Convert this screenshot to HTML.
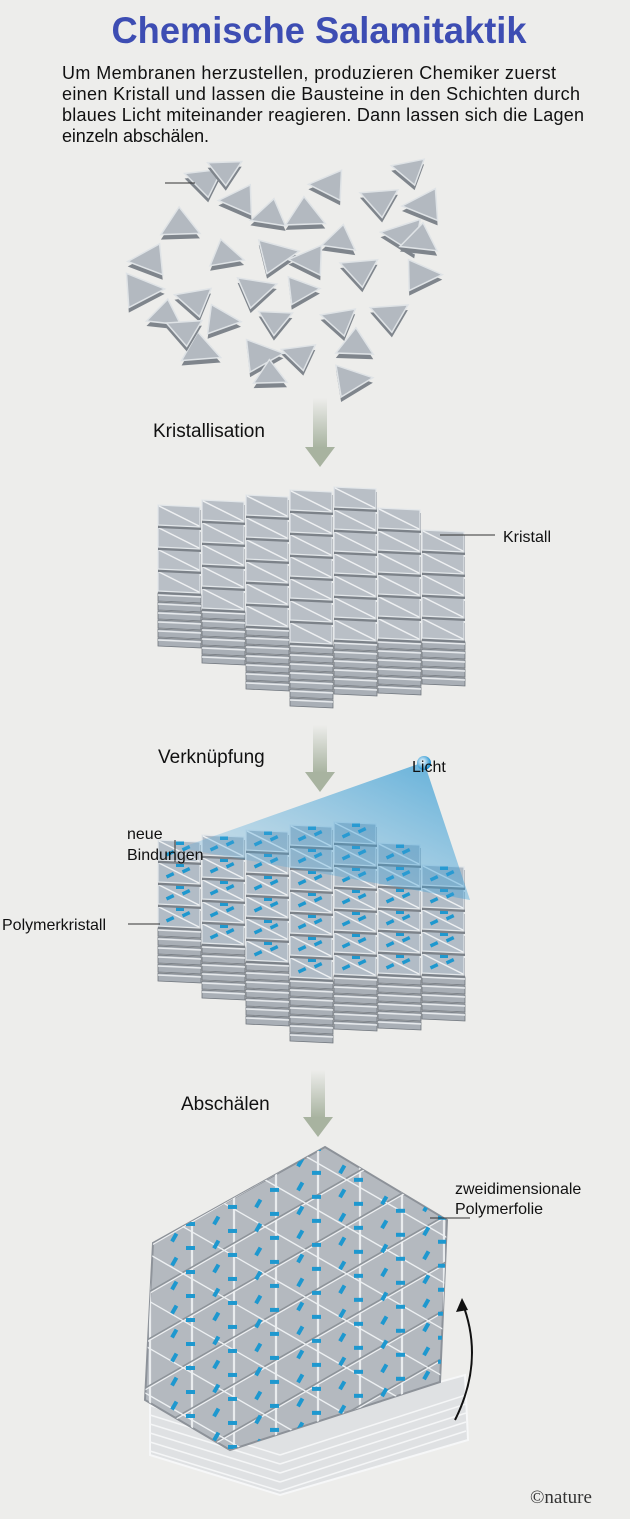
<!DOCTYPE html>
<html><head><meta charset="utf-8">
<style>
html,body{margin:0;padding:0;background:#ededeb;width:630px;height:1519px;overflow:hidden;}
body{position:relative;font-family:"Liberation Sans",sans-serif;}
</style></head><body>
<svg id="s" width="630" height="1519" viewBox="0 0 630 1519" xmlns="http://www.w3.org/2000/svg" style="position:absolute;left:0;top:0;display:block">
<defs>
<linearGradient id="ar" x1="0" y1="0" x2="0" y2="1"><stop offset="0" stop-color="#ededeb"/><stop offset="1" stop-color="#a8b3a0"/></linearGradient>
<linearGradient id="beam" x1="1" y1="0" x2="0" y2="1"><stop offset="0" stop-color="#1a90d0" stop-opacity="0.85"/><stop offset="1" stop-color="#5aaee0" stop-opacity="0.15"/></linearGradient>
<radialGradient id="ball" cx="0.4" cy="0.4" r="0.6"><stop offset="0" stop-color="#fff"/><stop offset="1" stop-color="#1a8fd0"/></radialGradient>
</defs>
<text x="319" y="43" text-anchor="middle" font-family="Liberation Sans, sans-serif" font-weight="bold" font-size="37" fill="#3d4db3" textLength="415" lengthAdjust="spacingAndGlyphs">Chemische Salamitaktik</text>
<text font-family="Liberation Sans, sans-serif" font-size="18" fill="#111" lengthAdjust="spacingAndGlyphs">
<tspan x="62" y="79" textLength="494">Um Membranen herzustellen, produzieren Chemiker zuerst</tspan>
<tspan x="62" y="100" textLength="518">einen Kristall und lassen die Bausteine in den Schichten durch</tspan>
<tspan x="62" y="121" textLength="522">blaues Licht miteinander reagieren. Dann lassen sich die Lagen</tspan>
<tspan x="62" y="142" textLength="147">einzeln abschälen.</tspan>
</text>
<g id="arrows">
<rect x="313" y="398" width="14" height="50" fill="url(#ar)"/><polygon points="305,447 335,447 320,467" fill="#a8b3a0"/>
<rect x="313" y="725" width="14" height="48" fill="url(#ar)"/><polygon points="305,772 335,772 320,792" fill="#a8b3a0"/>
<rect x="311" y="1070" width="14" height="48" fill="url(#ar)"/><polygon points="303,1117 333,1117 318,1137" fill="#a8b3a0"/>
</g>
<g id="scatter"></g>
<g id="c1"></g>
<g id="c2"></g>
<polygon points="424,762 180,848 470,900" fill="url(#beam)" opacity="0.8"/>
<circle cx="424" cy="763" r="7" fill="url(#ball)"/>
<g id="sheet"></g>
<path d="M455,1420 Q485,1360 462,1302" fill="none" stroke="#111" stroke-width="2"/>
<polygon points="462,1298 456,1312 468,1310" fill="#111"/>
<g stroke="#333" stroke-width="1">
<line x1="165" y1="183" x2="195" y2="183"/>
<line x1="440" y1="535" x2="495" y2="535"/>
<line x1="128" y1="924" x2="160" y2="924"/>
<line x1="175" y1="840" x2="175" y2="862"/>
<line x1="430" y1="1218" x2="470" y2="1218"/>
</g>
<g font-family="Liberation Sans, sans-serif" font-size="19" fill="#111">
<text x="153" y="437">Kristallisation</text>
<text x="158" y="763">Verknüpfung</text>
<text x="181" y="1110">Abschälen</text>
</g>
<g font-family="Liberation Sans, sans-serif" font-size="16" fill="#111">
<text x="503" y="542">Kristall</text>
<text x="412" y="772">Licht</text>
<text x="127" y="839">neue</text>
<text x="127" y="860">Bindungen</text>
<text x="2" y="930">Polymerkristall</text>
<text x="455" y="1194">zweidimensionale</text>
<text x="455" y="1214">Polymerfolie</text>
</g>
<text x="530" y="1503" font-family="Liberation Serif, serif" font-size="19" fill="#333">©nature</text>
</svg>
<script>
var NS="http://www.w3.org/2000/svg";
function el(p,t,a){var e=document.createElementNS(NS,t);for(var k in a)e.setAttribute(k,a[k]);p.appendChild(e);return e;}
var g=document.getElementById('scatter');
var seed=7;function r(){seed=(seed*9301+49297)%233280;return seed/233280;}
var pts=[[205,180],[225,170],[330,185],[410,170],[180,225],[270,215],[305,215],[380,200],[425,205],[150,260],[225,255],[275,255],[340,240],[405,235],[195,300],[255,290],[300,290],[360,270],[420,275],[165,315],[220,320],[275,320],[340,320],[390,315],[200,350],[260,355],[300,355],[355,345],[270,375],[350,380],[140,290],[240,200],[310,260],[420,240],[185,330]];
pts.forEach(function(p){var s=19+r()*6,a=r()*6.28,q=[];
for(var i=0;i<3;i++){var b=a+i*2.094;q.push((p[0]+s*Math.cos(b)).toFixed(1)+","+(p[1]+s*0.8*Math.sin(b)).toFixed(1));}
var q2=q.map(function(v){var c=v.split(",");return c[0]+","+(+c[1]+5);});
el(g,'polygon',{points:q2.join(" "),fill:'#7f858c'});
el(g,'polygon',{points:q.join(" "),fill:'#b3b9c0',stroke:'#dfe3e6','stroke-width':1.5});});
function crystal(id,oy,blue){var g=document.getElementById(id);
var tops=[505,500,495,490,487,508,530],face=[4,5,6,7,7,6,5],slab=[6,6,7,7,6,6,5];
for(var i=0;i<7;i++){var x=158+44*i,y=tops[i]+oy;
var fy=y+face[i]*22;
for(var k=slab[i]-1;k>=0;k--){var yy=fy+k*9;
el(g,'polygon',{points:x+","+yy+" "+(x+43)+","+(yy+2)+" "+(x+43)+","+(yy+10)+" "+x+","+(yy+8),fill:'#a9afb6',stroke:'#70767d','stroke-width':0.8});
el(g,'line',{x1:x,y1:yy+2,x2:x+43,y2:yy+4,stroke:'#e6e9ec','stroke-width':1.5});}
for(var j=face[i]-1;j>=0;j--){var y0=y+22*j;
el(g,'polygon',{points:x+","+(y0+3)+" "+(x+43)+","+(y0+5)+" "+(x+43)+","+(y0+25)+" "+x+","+(y0+23),fill:'#7c8289'});
el(g,'polygon',{points:x+","+y0+" "+(x+42)+","+(y0+2)+" "+(x+42)+","+(y0+22)+" "+x+","+(y0+20),fill:blue?'#b2bcc6':'#b9bfc6',stroke:'#e3e7ea','stroke-width':1.2});
el(g,'line',{x1:x+1,y1:y0+1,x2:x+41,y2:y0+21,stroke:'#eef0f2','stroke-width':1.5});
if(blue){[[12,13,-25],[28,8,-25],[22,3,0]].forEach(function(d){el(g,'rect',{x:x+d[0]-4,y:y0+d[1]-1.5,width:8,height:3.5,fill:'#1e98cf',transform:'rotate('+d[2]+' '+(x+d[0])+' '+(y0+d[1])+')'});});}
}}}
crystal('c1',0,false);
crystal('c2',335,true);
var sg=document.getElementById('sheet');
el(sg,'polygon',{points:"150,1405 250,1440 300,1420 465,1375 468,1440 280,1495 150,1455",fill:'#dfe1e3',stroke:'#f6f7f8','stroke-width':2});
for(var k=0;k<5;k++){el(sg,'line',{x1:150,y1:1415+k*9,x2:280,y2:1455+k*9,stroke:'#f5f6f7','stroke-width':1.5});el(sg,'line',{x1:280,y1:1455+k*9,x2:466,y2:1395+k*9,stroke:'#f5f6f7','stroke-width':1.5});}
var hex="325,1147 447,1220 440,1382 230,1450 145,1400 153,1243";
el(sg,'polygon',{points:hex,fill:'#b4b9bf',stroke:'#8d9299','stroke-width':2});
var cp=el(sg,'clipPath',{id:'hc'});el(cp,'polygon',{points:hex});
var L=el(sg,'g',{'clip-path':'url(#hc)'});
for(var x=150;x<=450;x+=42){el(L,'line',{x1:x,y1:1100,x2:x,y2:1500,stroke:'#e9ecee','stroke-width':2.2});}
for(var b=-300;b<=1800;b+=47){el(L,'line',{x1:100,y1:b+1150,x2:500,y2:b+1150-230,stroke:'#8e949a','stroke-width':1.6});el(L,'line',{x1:100,y1:b+1151.8,x2:500,y2:b+1151.8-230,stroke:'#eef0f2','stroke-width':1.2});}
for(var b=-300;b<=600;b+=47){el(L,'line',{x1:100,y1:b+1150,x2:500,y2:b+1150+230,stroke:'#edf0f2','stroke-width':1.4});}
for(var x=160;x<=440;x+=42){for(var y=1140;y<=1460;y+=24){var o=((x-160)/42)%2?12:0;var yy=y+o-(x-160)*0.12;
el(L,'rect',{x:x+10,y:yy,width:9,height:4,fill:'#1e98cf',transform:'rotate(-60 '+(x+14)+' '+(yy+2)+')'});
el(L,'rect',{x:x+26,y:yy+10,width:9,height:4,fill:'#1e98cf'});}}
</script>
</body></html>
